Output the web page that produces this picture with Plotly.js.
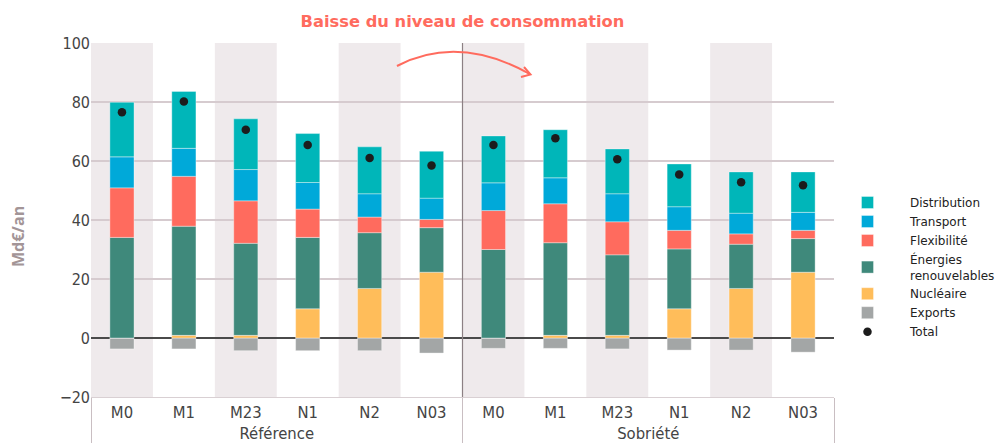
<!DOCTYPE html>
<html><head><meta charset="utf-8">
<script src="https://cdn.plot.ly/plotly-3.0.1.min.js"></script>
<style>html,body{margin:0;padding:0;background:#fff}</style>
</head><body><div id="chart" style="width:1006px;height:448px"></div>
<script>
const groupLabels = ["Référence", "Sobriété"];
const scenarios = ["M0", "M1", "M23", "N1", "N2", "N03"];
const nucleaire     = [0, 0.9, 0.9, 9.9, 16.8, 22.3, 0, 0.9, 0.9, 9.9, 16.8, 22.3];
const renouvelables = [34.1, 37.0, 31.2, 24.2, 18.9, 15.1, 30.0, 31.4, 27.3, 20.3, 15.0, 11.4];
const flexibilite   = [16.8, 16.9, 14.4, 9.6, 5.3, 2.8, 13.2, 13.2, 11.2, 6.3, 3.5, 2.8];
const transport     = [10.5, 9.5, 10.6, 9.0, 7.9, 7.2, 9.4, 8.8, 9.5, 8.0, 7.0, 6.1];
const distribution  = [18.5, 19.3, 17.2, 16.6, 15.9, 15.9, 15.9, 16.3, 15.2, 14.5, 14.0, 13.7];
const exportsV      = [-3.7, -3.7, -4.3, -4.3, -4.3, -5.1, -3.5, -3.5, -3.7, -4.1, -4.1, -4.8];
const total         = [76.5, 80.2, 70.6, 65.4, 61.0, 58.5, 65.4, 67.7, 60.6, 55.4, 52.8, 51.8];

const lvl0 = [], lvl1 = [];
groupLabels.forEach(g => scenarios.forEach(s => { lvl0.push(g); lvl1.push(s); }));
const X = [lvl0, lvl1];
const n = lvl1.length;

function bar(name, y, color, rank) {
  return {type: 'bar', name: name, x: X, y: y, marker: {color: color, line: {width: 0.6, color: 'rgba(255,255,255,0.6)'}},
          legendrank: rank, hoverinfo: 'name+y'};
}
const traces = [
  bar('Exports', exportsV, '#A3A6A6', 6),
  bar('Nucléaire', nucleaire, '#FFBD5A', 5),
  bar('Énergies<br>renouvelables', renouvelables, '#3F897B', 4),
  bar('Flexibilité', flexibilite, '#FF6B5E', 3),
  bar('Transport', transport, '#00A9D9', 2),
  bar('Distribution', distribution, '#00B6B9', 1),
  {type: 'scatter', mode: 'markers', name: 'Total', x: X, y: total, legendrank: 7,
   marker: {color: '#1c1c1c', size: 8.5}}
];

const shapes = [];
for (let i = 0; i < n; i += 2) {
  shapes.push({type: 'rect', xref: 'paper', yref: 'paper', x0: i / n, x1: (i + 1) / n, y0: 0, y1: 1,
               fillcolor: '#EFEAEC', line: {width: 0}, layer: 'below'});
}
shapes.push({type: 'line', xref: 'paper', yref: 'paper', x0: 0.5, x1: 0.5, y0: 0, y1: 1,
             line: {color: '#8C8084', width: 1.2}});
// curved arrow (paper coords)
const W = 743, H = 354, L = 91, T = 43;
const px = v => ((v - L) / W).toFixed(4), py = v => ((T + H - v) / H).toFixed(4);
shapes.push({type: 'path', xref: 'paper', yref: 'paper',
  path: `M ${px(397)} ${py(66)} Q ${px(458)} ${py(34)} ${px(530)} ${py(74)}`,
  line: {color: '#FF6B5E', width: 2}});
shapes.push({type: 'path', xref: 'paper', yref: 'paper',
  path: `M ${px(524)} ${py(67)} L ${px(530.5)} ${py(74.5)} L ${px(521)} ${py(77)}`,
  line: {color: '#FF6B5E', width: 2}});

const layout = {
  width: 1006, height: 448,
  margin: {l: 91, r: 172, t: 43, b: 51, autoexpand: false},
  paper_bgcolor: '#fff', plot_bgcolor: 'rgba(0,0,0,0)',
  barmode: 'relative', bargap: 0.61,
  showlegend: true,
  title: {text: '<b>Baisse du niveau de consommation</b>', xref: 'paper', x: 0.5, xanchor: 'center',
          yref: 'container', y: 0.952, yanchor: 'middle',
          font: {family: 'DejaVu Sans, sans-serif', size: 16.3, color: '#FF6B5E'}},
  xaxis: {type: 'multicategory', range: [-0.5, n - 0.5], automargin: false, showgrid: false, zeroline: false,
          showline: true, linecolor: '#D9D0D3', linewidth: 1,
          showdividers: true, dividercolor: '#C9BEC2', dividerwidth: 1,
          tickfont: {family: 'Liberation Sans Narrow, DejaVu Sans Condensed, sans-serif', size: 16.5, color: '#444'},
          ticks: ''},
  yaxis: {range: [-20, 100], dtick: 20, automargin: false, showgrid: true, gridcolor: '#D6CBCF', gridwidth: 1.5,
          zeroline: true, zerolinecolor: '#4a4a4a', zerolinewidth: 1.2, showline: false,
          tickfont: {family: 'Liberation Sans Narrow, DejaVu Sans Condensed, sans-serif', size: 16, color: '#444'}},
  annotations: [{text: '<b>Md€/an</b>', xref: 'paper', yref: 'paper', x: (18 - L) / W, y: (T + H - 237) / H,
                 xanchor: 'center', yanchor: 'middle', textangle: -90, showarrow: false,
                 font: {family: 'Open Sans, sans-serif', size: 16, color: '#A39597'}}],
  legend: {x: (825 - L) / W, xanchor: 'left', y: (T + H - 188) / H, yanchor: 'top', tracegroupgap: 0, itemwidth: 75,
           font: {family: 'DejaVu Sans, sans-serif', size: 12, color: '#222'}, bgcolor: 'rgba(0,0,0,0)'},
  shapes: shapes
};
Plotly.newPlot('chart', traces, layout, {displayModeBar: false, staticPlot: true});
</script></body></html>
